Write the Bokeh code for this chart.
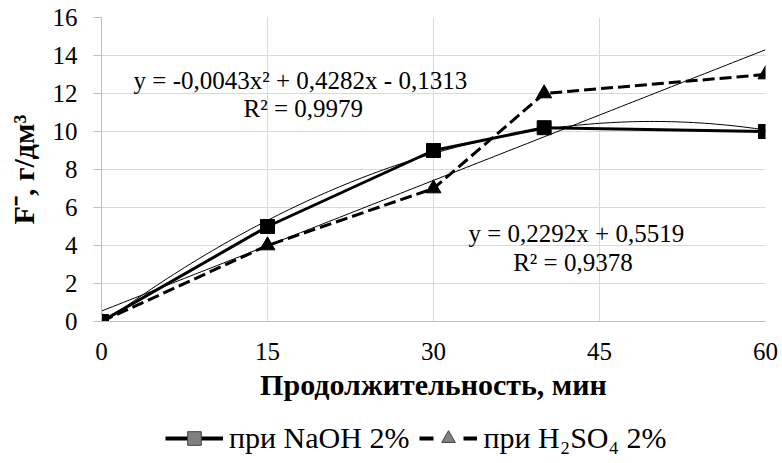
import numpy as np
from bokeh.plotting import figure
from bokeh.layouts import column
from bokeh.models import (Range1d, Label, Legend, LegendItem, FixedTicker)
from bokeh.embed import file_html
from bokeh.resources import INLINE

# ---- data ----
time_min = [0, 15, 30, 40, 60]
naoh = [0, 5, 9, 10.2, 10]
h2so4 = [0, 4, 7, 12, 13]
x_ticks = [0, 15, 30, 45, 60]
y_ticks = [0, 2, 4, 6, 8, 10, 12, 14, 16]
poly_coef = [-0.0043, 0.4282, -0.1313]   # NaOH trendline (quadratic)
lin_coef = [0.2292, 0.5519]              # H2SO4 trendline (linear)
eq_poly = "y = -0,0043x² + 0,4282x - 0,1313"
r2_poly = "R² = 0,9979"
eq_lin = "y = 0,2292x + 0,5519"
r2_lin = "R² = 0,9378"
label_naoh = "при NaOH 2%"
label_h2so4 = "при H₂SO₄ 2%"
x_title = "Продолжительность, мин"
y_title = "F⁻, г/дм³"

FONT = "Liberation Serif"
GRID = "#d9d9d9"
AXIS = "#bfbfbf"

p = figure(width=780, height=410, output_backend="svg", toolbar_location=None,
           x_range=Range1d(0, 60), y_range=Range1d(0, 16),
           min_border_left=101, min_border_right=15, min_border_top=17, min_border_bottom=89)
p.outline_line_color = None

# axes
p.xaxis.ticker = FixedTicker(ticks=x_ticks)
p.yaxis.ticker = FixedTicker(ticks=y_ticks)
for ax in (p.xaxis[0], p.yaxis[0]):
    ax.axis_line_color = AXIS
    ax.major_tick_line_color = AXIS
    ax.minor_tick_line_color = None
    ax.major_tick_in = 0
    ax.major_label_text_font = FONT
    ax.major_label_text_font_size = "25px"
    ax.major_label_text_color = "#000000"
    ax.axis_label_text_font = FONT
    ax.axis_label_text_font_style = "bold"
    ax.axis_label_text_font_size = "30px"
    ax.axis_label_text_color = "#000000"
p.xaxis.major_tick_out = 0
p.xaxis.major_label_standoff = 21
p.xaxis.axis_label = x_title
p.xaxis.axis_label_standoff = 5
p.yaxis.major_tick_out = 8
p.yaxis.major_label_standoff = 16
p.yaxis.axis_label = y_title
p.yaxis.axis_label_standoff = 10

p.xgrid.ticker = FixedTicker(ticks=x_ticks)
p.ygrid.ticker = FixedTicker(ticks=y_ticks)
p.grid.grid_line_color = GRID
p.grid.grid_line_width = 1

# trendlines
xs = np.linspace(0, 60, 121)
p.line(xs, np.polyval(poly_coef, xs), line_color="black", line_width=1)
p.line(xs, np.polyval(lin_coef, xs), line_color="black", line_width=1)

# series
p.line(time_min, naoh, line_color="black", line_width=3)
p.line(time_min, h2so4, line_color="black", line_width=3, line_dash="12 5")
p.scatter(time_min, naoh, marker="square", size=14, fill_color="black", line_color="black")
p.scatter(time_min, h2so4, marker="triangle", size=15, fill_color="black", line_color="black")

# trendline equations
for txt, x, y in [(eq_poly, 2.9, 12.68), (r2_poly, 12.83, 11.21),
                  (eq_lin, 33.16, 4.63), (r2_lin, 37.2, 3.1)]:
    p.add_layout(Label(x=x, y=y, text=txt, text_font=FONT, text_font_size="25px",
                       text_align="left", text_baseline="middle", text_color="black"))

# ---- legend strip (separate figure; its data lie outside its view) ----
q = figure(width=780, height=50, output_backend="svg", toolbar_location=None,
           x_range=Range1d(1000, 1001), y_range=Range1d(1000, 1001),
           x_axis_location=None, y_axis_location=None,
           min_border_left=0, min_border_right=0, min_border_top=0, min_border_bottom=0)
q.outline_line_color = None
q.grid.visible = False
a1 = q.line(time_min, naoh, line_color="black", line_width=4)
b1 = q.scatter(time_min, naoh, marker="square", fill_color="#808080", line_color="#404040")
a2 = q.line(time_min, h2so4, line_color="black", line_width=4, line_dash="14 30")
b2 = q.scatter(time_min, h2so4, marker="triangle", fill_color="#808080", line_color="#404040")

legend = Legend(items=[LegendItem(label=label_naoh, renderers=[a1, b1]),
                       LegendItem(label=label_h2so4, renderers=[a2, b2])],
                orientation="horizontal", location=(64, 5),
                label_text_font=FONT, label_text_font_size="30px", label_text_color="black",
                glyph_width=58, glyph_height=34, label_standoff=6, spacing=10,
                border_line_color=None, background_fill_alpha=0,
                padding=0, margin=0)
q.add_layout(legend)

open("out.html", "w").write(file_html(column(p, q), INLINE))
